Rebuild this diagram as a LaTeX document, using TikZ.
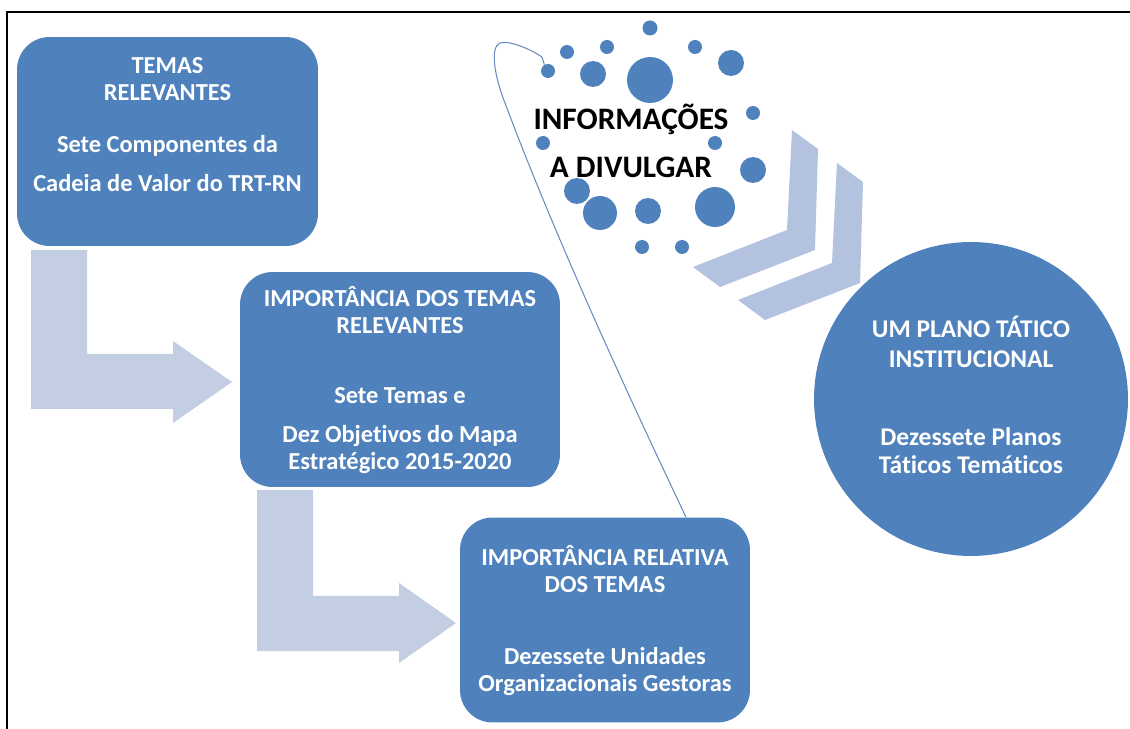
\documentclass[tikz,border=0pt]{standalone}
\usepackage{fontspec}
\setmainfont{Carlito}[Ligatures=NoCommon]
\definecolor{boxblue}{HTML}{4F81BD}
\definecolor{arrowgray}{HTML}{C3CEE2}
\definecolor{chevblue}{HTML}{B2C2DF}
\definecolor{linkblue}{HTML}{6A8AC0}
\begin{document}
\begin{tikzpicture}[
  x=0.02cm, y=-0.02cm,
  box/.style={
    fill=boxblue, rectangle, rounded corners=0.65cm, inner sep=0pt
  },
  circ/.style={fill=boxblue, circle, inner sep=0pt, minimum size=6.28cm},
  txt/.style={
    text=white, align=center, inner sep=0pt,
    font=\bfseries\fontsize{13.9}{15.4}\selectfont
  },
  ctxt/.style={
    text=white, align=center, inner sep=0pt,
    font=\bfseries\fontsize{14.5}{16}\selectfont
  },
  info/.style={
    text=black, align=center, inner sep=0pt,
    font=\bfseries\fontsize{17.8}{21}\selectfont
  },
  dot/.style={fill=boxblue, circle, inner sep=0pt},
  bendarrow/.style={fill=arrowgray},
  chevron/.style={fill=chevblue},
  lnk/.style={draw=linkblue, line width=0.6pt},
  frame/.style={draw=black, line width=1.1pt}
]
\useasboundingbox (0,0) rectangle (1130,729);

%% ── Frame ────────────────────────────────────────────────────
\draw[frame] (7,729) -- (7,12) -- (1130,12);

%% ── Bent arrows ──────────────────────────────────────────────
\fill[bendarrow] (31,250) -- (87,250) -- (87,354) -- (173,354) -- (173,341)
  -- (232,382) -- (173,423) -- (173,409) -- (31,409) -- cycle;
\fill[bendarrow] (257,490) -- (313,490) -- (313,596) -- (399,596) -- (399,583)
  -- (456,623) -- (399,663) -- (399,651) -- (257,651) -- cycle;

%% ── Chevrons ─────────────────────────────────────────────────
\fill[chevron] (792,130) -- (818,149) -- (815,250) -- (720,287)
  -- (693,267) -- (787,230) -- cycle;
\fill[chevron] (837,163) -- (863,182) -- (860,283) -- (765,320)
  -- (738,300) -- (832,263) -- cycle;

%% ── Boxes ────────────────────────────────────────────────────
\node[box, minimum width=6.02cm, minimum height=4.18cm] (b1) at (167.5,141.5) {};
\node[box, minimum width=6.4cm,  minimum height=4.3cm]  (b2) at (400,379.5) {};
\node[box, minimum width=5.8cm,  minimum height=4.1cm]  (b3) at (605,620) {};
\node[circ] (pl) at (971,399) {};

\node[txt] (b1t) at (167.5,79.5) {TEMAS\\RELEVANTES};
\node[txt] (b1s) at (167.5,163.5) {Sete Componentes da\\[6.8pt]Cadeia de Valor do TRT-RN};
\node[txt] (b2t) at (400,310.5) {IMPORTÂNCIA DOS TEMAS\\RELEVANTES};
\node[txt] (b2s) at (400,430.5) {Sete Temas e\\[6.8pt]Dez Objetivos do Mapa\\Estratégico 2015-2020};
\node[txt] (b3t) at (605,569.5) {IMPORTÂNCIA RELATIVA\\DOS TEMAS};
\node[txt] (b3s) at (605,671.5) {Dezessete Unidades\\Organizacionais Gestoras};
\node[ctxt] (plt) at (971,342) {UM PLANO TÁTICO\\[1pt]INSTITUCIONAL};
\node[ctxt] (pls) at (971,451) {Dezessete Planos\\Táticos Temáticos};

%% ── Dot cluster ──────────────────────────────────────────────
\node[dot, minimum size=0.30cm] (d1)  at (650,28)  {};
\node[dot, minimum size=0.28cm] (d2)  at (567,52)  {};
\node[dot, minimum size=0.28cm] (d3)  at (607,47)  {};
\node[dot, minimum size=0.28cm] (d4)  at (695,47)  {};
\node[dot, minimum size=0.52cm] (d5)  at (731,63)  {};
\node[dot, minimum size=0.28cm] (d6)  at (548,71)  {};
\node[dot, minimum size=0.52cm] (d7)  at (593,74)  {};
\node[dot, minimum size=0.92cm] (d8)  at (650,80)  {};
\node[dot, minimum size=0.28cm] (d9)  at (753,113) {};
\node[dot, minimum size=0.28cm] (d10) at (543,143) {};
\node[dot, minimum size=0.28cm] (d11) at (715,143) {};
\node[dot, minimum size=0.52cm] (d12) at (753,170) {};
\node[dot, minimum size=0.52cm] (d13) at (577,191) {};
\node[dot, minimum size=0.68cm] (d14) at (600,213) {};
\node[dot, minimum size=0.52cm] (d15) at (648,211) {};
\node[dot, minimum size=0.80cm] (d16) at (715,207) {};
\node[dot, minimum size=0.28cm] (d17) at (642,247) {};
\node[dot, minimum size=0.28cm] (d18) at (682,247) {};

\node[info] (inf) at (631,141) {INFORMAÇÕES\\[6.3pt]A DIVULGAR};

%% ── Link from dot cluster to box 3 ───────────────────────────
\draw[lnk] (d6.120) -- (542,57)
  .. controls (532,50) and (510,40) .. (500,43)
  .. controls (490,47) and (494,75) .. (505,103)
  .. controls (560,250) and (640,420) .. ([xshift=1.62cm]b3.north);

\end{tikzpicture}
\end{document}
